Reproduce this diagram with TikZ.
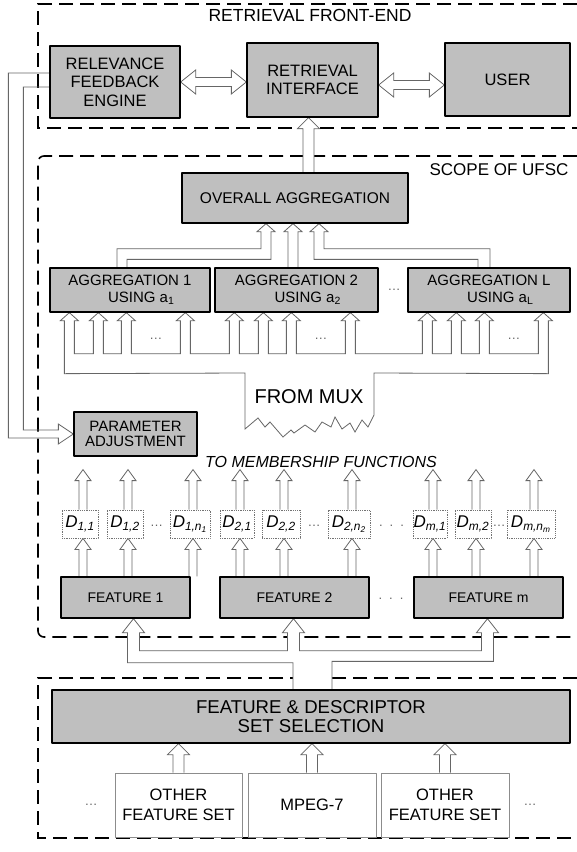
\documentclass[tikz,border=0pt]{standalone}
\usepackage{fontspec}
\setmainfont{Liberation Sans}
\usetikzlibrary{calc,backgrounds}

\tikzset{
  frame/.style={draw=black, line width=1.6pt, dash pattern=on 14pt off 7pt},
  gbox/.style={draw=black, line width=1.3pt, fill=black!25, align=center, inner sep=0pt, font=\fontsize{16.5}{18.5}\selectfont},
  aggbox/.style={gbox, minimum height=44pt, font=\fontsize{15}{17}\selectfont},
  featbox/.style={gbox, minimum height=41pt, font=\fontsize{14}{16}\selectfont},
  dbox/.style={draw=black!55, line width=0.8pt, densely dotted, fill=white, inner sep=0pt, minimum height=28pt, font=\fontsize{17}{18}\selectfont\itshape},
  obox/.style={draw=black!45, line width=0.8pt, fill=white, align=center, inner sep=0pt, minimum width=128pt, minimum height=64pt, font=\fontsize{16.5}{20}\selectfont},
  harrow/.style={draw=black!60, line width=0.8pt, fill=white},
  dotsnode/.style={text=black!60, font=\fontsize{13}{14}\selectfont},
}

% hollow up arrow: [shaft half width]{tip}{tail level}
\newcommand{\hup}[3][5]{%
  \filldraw[harrow] ($(#2 |- #3)+(-#1,0)$) -- ($(#2)+(-#1,11)$) -- ($(#2)+({-2*#1},11)$) -- (#2)
    -- ($(#2)+({2*#1},11)$) -- ($(#2)+(#1,11)$) -- ($(#2 |- #3)+(#1,0)$);}
% hollow double arrow: {left tip}{right tip}
\newcommand{\hboth}[2]{%
  \filldraw[harrow] (#1) -- ++(15,-12) -- ++(0,7.5) -- ($(#2)+(-15,-4.5)$) -- ++(0,-7.5) -- (#2)
    -- ++(-15,12) -- ++(0,-7.5) -- ($(#1)+(15,4.5)$) -- ++(0,7.5) -- cycle;}

\begin{document}
\begin{tikzpicture}[x=1pt, y=-1pt, line join=round]
\useasboundingbox (0,0) rectangle (577,852);

% retrieval front-end
\node[font=\fontsize{17.5}{20}\selectfont] (fetitle) at (310,15) {RETRIEVAL FRONT-END};
\node[gbox, minimum width=130pt, minimum height=72pt] (rfe) at (115,82) {RELEVANCE\\FEEDBACK\\ENGINE};
\node[gbox, minimum width=131pt, minimum height=74pt] (ri) at (312.5,80) {RETRIEVAL\\INTERFACE};
\node[gbox, minimum width=125pt, minimum height=73pt] (user) at (507.5,79.5) {USER};

% scope of ufsc
\node[font=\fontsize{17}{20}\selectfont, anchor=east] (ufsc) at (572,170) {SCOPE OF UFSC};
\node[gbox, minimum width=226pt, minimum height=50pt, font=\fontsize{15.5}{17}\selectfont] (oa) at (295,198) {OVERALL AGGREGATION};
\node[aggbox, minimum width=160pt] (agg1) at (130,290) {AGGREGATION 1\\\hspace*{1.5em}USING a\textsubscript{1}};
\node[aggbox, minimum width=163pt] (agg2) at (296.5,290) {AGGREGATION 2\\\hspace*{1.5em}USING a\textsubscript{2}};
\node[aggbox, minimum width=162pt] (aggL) at (489,290) {AGGREGATION L\\\hspace*{1.5em}USING a\textsubscript{L}};
\node[dotsnode] (dagg) at (394,290) {\dots};
\node[font=\fontsize{20}{22}\selectfont] (mux) at (309,397) {FROM MUX};
\node[gbox, minimum width=123pt, minimum height=44pt, font=\fontsize{15}{15.5}\selectfont] (pa) at (135.5,434) {PARAMETER\\ADJUSTMENT};
\node[font=\fontsize{16}{18}\selectfont\itshape] (tomf) at (321,462) {TO MEMBERSHIP FUNCTIONS};

% descriptors
\foreach \nm/\x/\w/\s in {d11/80/36/{1,1}, d12/125/36/{1,2}, d1n/190/40/{1,n\textsubscript{1}},
    d21/237/34/{2,1}, d22/281/38/{2,2}, d2n/349/42/{2,n\textsubscript{2}},
    dm1/430/34/{m,1}, dm2/473/36/{m,2}, dmn/531/48/{m,n\textsubscript{m}}}
  \node[dbox, minimum width=\w pt] (\nm) at (\x,524) {D\textsubscript{\s}};
\node[dotsnode] (dd1) at (156.5,526) {\dots};
\node[dotsnode] (dd2) at (314,526) {\dots};
\node[dotsnode] (dd3) at (391.5,526) {.\hspace{7pt}.\hspace{7pt}.};
\node[dotsnode] (dd4) at (499,526) {\dots};

% features
\node[featbox, minimum width=129pt] (f1) at (125.5,597.5) {FEATURE 1};
\node[featbox, minimum width=149pt] (f2) at (294.5,597.5) {FEATURE 2};
\node[featbox, minimum width=149pt] (fm) at (488.5,597.5) {FEATURE m};
\node[dotsnode] (dfeat) at (391,599) {.\hspace{7pt}.\hspace{7pt}.};

% feature sets
\node[gbox, minimum width=518pt, minimum height=53pt, font=\fontsize{18.6}{19.5}\selectfont] (fds) at (311,716.5) {FEATURE \& DESCRIPTOR\\SET SELECTION};
\node[obox, minimum width=127pt] (o1) at (178.5,805) {OTHER\\FEATURE SET};
\node[obox] (mpeg) at (312,805) {MPEG-7};
\node[obox] (o2) at (445,805) {OTHER\\FEATURE SET};
\node[dotsnode] (do1) at (91,805) {\dots};
\node[dotsnode] (do2) at (530,805) {\dots};

\begin{scope}[on background layer]
% dashed frames
\draw[frame] (577,4) -- (38,4) -- (38,128) -- (577,128);
\draw[frame, rounded corners=6pt] (577,156) -- (38,156) -- (38,637) -- (577,637);
\draw[frame] (577,678) -- (38,678) -- (38,838) -- (577,838);

% front-end arrows
\coordinate (fb-r) at (ri.west |- rfe.east);
\hboth{rfe.east}{fb-r}
\coordinate (us-l) at ($(ri.east)+(0,5)$);
\coordinate (us-r) at (user.west |- us-l);
\hboth{us-l}{us-r}
\coordinate (ri-t) at ($(ri.south)+(-4,0)$);
\hup[5.5]{ri-t}{oa.north}

% feedback to parameter adjustment
\draw[harrow, fill=none] ($(rfe.west)+(0,-9)$) -| ($(pa.west)+(-65,4)$) -- ($(pa.west)+(-15,4)$) -- ++(0,6) -- (pa.west)
  -- ++(-15,-10) -- ++(0,6) -| ($(rfe.west)+(-26,5)$) -- ($(rfe.west)+(0,5)$);

% aggregations to overall aggregation
\coordinate (oa-i1) at ($(oa.south)+(-29,0)$);
\coordinate (oa-i2) at ($(oa.south)+(-2,0)$);
\coordinate (oa-i3) at ($(oa.south)+(24,0)$);
\filldraw[harrow] ($(agg1.north)+(-13,0)$) |- ($(oa-i1)+(-5,25)$) -- ($(oa-i1)+(-5,8)$) -- ++(-4,0) -- (oa-i1)
  -- ++(9,8) -- ++(-4,0) |- ($(agg1.north)+(-3,-8)$) -- ++(0,8);
\filldraw[harrow] ($(oa-i2 |- agg2.north)+(-5,0)$) -- ($(oa-i2)+(-5,8)$) -- ++(-4,0) -- (oa-i2)
  -- ++(9,8) -- ++(-4,0) -- ($(oa-i2 |- agg2.north)+(5,0)$);
\filldraw[harrow] ($(aggL.north)+(1,0)$) |- ($(oa-i3)+(5,25)$) -- ($(oa-i3)+(5,8)$) -- ++(4,0) -- (oa-i3)
  -- ++(-9,8) -- ++(4,0) |- ($(aggL.north)+(-11,-8)$) -- ++(0,8);

% inputs from mux
\foreach \bx in {1,2,L} \foreach \kk/\dx in {1/20,2/49,3/77,4/136}
  \coordinate (in\bx\kk) at ($(agg\bx.south west)+(\dx,0)$);
\coordinate (mux-l) at (245,373);
\coordinate (mux-r) at (374,373);
\filldraw[harrow] ($(mux-l)+(0,56)$) -- (mux-l) -- ($(in11)+(-5,61)$)
  \foreach \tp in {in11,in12,in13,in14,in21,in22,in23,in24,inL1,inL2,inL3,inL4}
    { -- ($(\tp)+(-5,41)$) -- ($(\tp)+(-5,8)$) -- ($(\tp)+(-9,8)$) -- (\tp) -- ($(\tp)+(9,8)$) -- ($(\tp)+(5,8)$) -- ($(\tp)+(5,41)$) }
  -- ($(inL4)+(5,61)$) -- (mux-r) -- ($(mux-r)+(0,42)$)
  -- (368,427) -- (362,420) -- (355,432) -- (350,423) -- (342,429) -- (335,417) -- (331,427) -- (322,422)
  -- (315,432) -- (305,425) -- (294,433) -- (291,430) -- (283,437) -- (270,422) -- (265,427) -- (258,418) -- cycle;
\foreach \bx in {1,2,L}
  \node[dotsnode] (bd\bx) at ($(in\bx3)!0.5!(in\bx4)+(0,26)$) {\dots};

% descriptor arrows
\foreach \nm/\f in {d11/f1,d12/f1,d1n/f1,d21/f2,d22/f2,d2n/f2,dm1/fm,dm2/fm,dmn/fm} {
  \coordinate (\nm-t) at ($(\nm.north)+(3,-40)$);
  \coordinate (\nm-b) at ($(\nm.south)+(3,0)$);
  \hup[4]{\nm-t}{\nm.north}
  \hup[4]{\nm-b}{\f.north}
}

% selection to features
\coordinate (f1-t) at ($(f1.south)+(8,0)$);
\coordinate (f2-t) at ($(f2.south)+(-1,0)$);
\coordinate (fm-t) at ($(fm.south)+(-1,0)$);
\coordinate (fds-a) at ($(fds.north)+(-18,0)$);
\coordinate (fds-b) at ($(fds.north)+(21,0)$);
\filldraw[harrow] (fds-a) |- ($(f1-t)+(-6,44)$) -- ($(f1-t)+(-6,14)$) -- ++(-5,0) -- (f1-t) -- ++(11,14) -- ++(-5,0)
  |- ($(f2-t)+(-6,32)$) -- ($(f2-t)+(-6,14)$) -- ++(-5,0) -- (f2-t) -- ++(11,14) -- ++(-5,0)
  |- ($(fm-t)+(-6,32)$) -- ($(fm-t)+(-6,14)$) -- ++(-5,0) -- (fm-t) -- ++(11,14) -- ++(-5,0)
  |- ($(fds-b)+(0,-28)$) -- (fds-b);

% feature sets to selection
\foreach \ob in {o1,mpeg,o2} {
  \coordinate (\ob-t) at (\ob.north |- fds.south);
  \hup[5.5]{\ob-t}{\ob.north}
}
\end{scope}
\end{tikzpicture}
\end{document}
